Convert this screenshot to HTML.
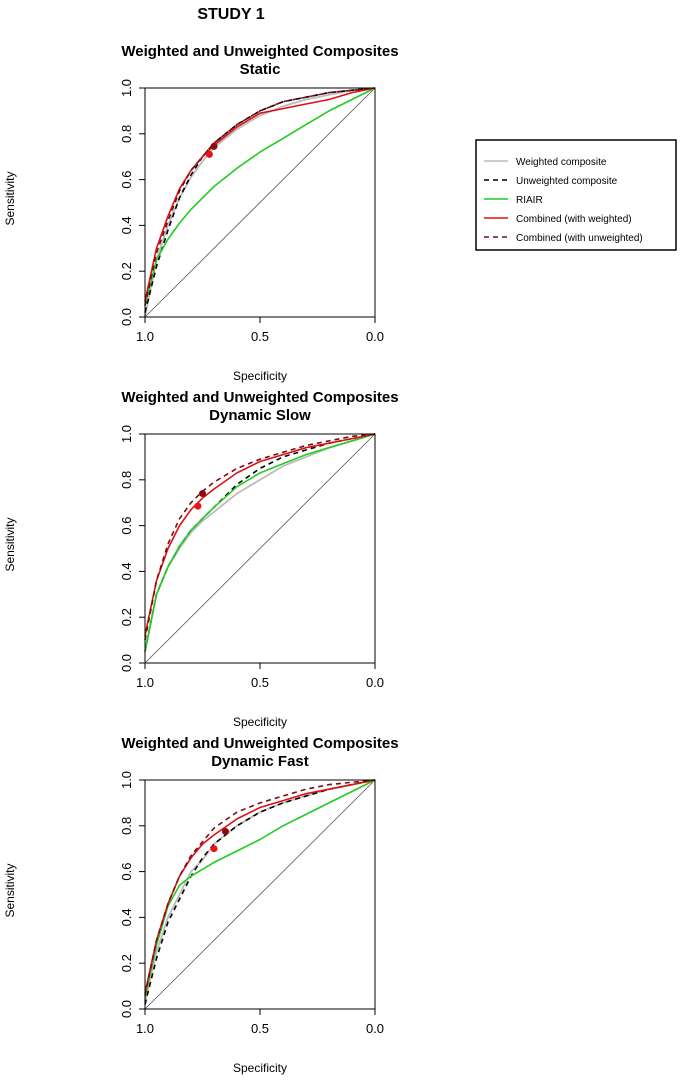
<!DOCTYPE html>
<html><head><meta charset="utf-8"><style>
body{margin:0;background:#fff;}
svg text{font-family:"Liberation Sans",Arial,sans-serif;fill:#000;}
</style></head><body>
<svg id="chart" width="685" height="1085" viewBox="0 0 685 1085" xmlns="http://www.w3.org/2000/svg">
<text x="231" y="19" font-size="16" font-weight="bold" text-anchor="middle">STUDY 1</text>
<g id="panels"></g>
<g>
<rect x="476" y="140" width="200" height="110" fill="#fff" stroke="#000" stroke-width="1.5"/>
<line x1="484" y1="161" x2="508" y2="161" stroke="#bbb" stroke-width="1.5"/>
<text x="516" y="165" font-size="10" fill="#333">Weighted composite</text>
<line x1="484" y1="180" x2="508" y2="180" stroke="#000" stroke-width="1.5" stroke-dasharray="5,4"/>
<text x="516" y="184" font-size="10">Unweighted composite</text>
<line x1="484" y1="199" x2="508" y2="199" stroke="#22cc22" stroke-width="1.5"/>
<text x="516" y="203" font-size="10">RIAIR</text>
<line x1="484" y1="218" x2="508" y2="218" stroke="#dd1111" stroke-width="1.5"/>
<text x="516" y="222" font-size="10">Combined (with weighted)</text>
<line x1="484" y1="237" x2="508" y2="237" stroke="#7a0a14" stroke-width="1.5" stroke-dasharray="5,4"/>
<text x="516" y="241" font-size="10">Combined (with unweighted)</text>
</g>
</svg>
<script>
const specificity=[1,0.95,0.9,0.85,0.8,0.75,0.7,0.6,0.5,0.4,0.3,0.2,0.1,0];
const panelTitles=["Static","Dynamic Slow","Dynamic Fast"];
const tickLabels=["0.0","0.2","0.4","0.6","0.8","1.0"];
const xTickLabels=["1.0","0.5","0.0"];
const staticWeighted=[0,0.25,0.4,0.52,0.61,0.68,0.74,0.82,0.88,0.92,0.95,0.97,0.99,1];
const staticUnweighted=[0.02,0.22,0.38,0.52,0.62,0.7,0.76,0.84,0.9,0.94,0.96,0.98,0.99,1];
const staticRiair=[0.05,0.25,0.34,0.41,0.47,0.52,0.57,0.65,0.72,0.78,0.84,0.9,0.95,1];
const staticCombW=[0.07,0.3,0.44,0.56,0.64,0.7,0.75,0.83,0.89,0.91,0.93,0.95,0.98,1];
const staticCombU=[0.05,0.28,0.42,0.55,0.64,0.7,0.76,0.84,0.9,0.94,0.96,0.98,0.99,1];
const slowWeighted=[0.05,0.3,0.42,0.5,0.57,0.62,0.66,0.74,0.8,0.86,0.9,0.94,0.97,1];
const slowUnweighted=[0.05,0.3,0.42,0.51,0.58,0.63,0.68,0.78,0.85,0.9,0.93,0.96,0.98,1];
const slowRiair=[0.05,0.3,0.42,0.51,0.58,0.63,0.68,0.77,0.83,0.87,0.91,0.94,0.97,1];
const slowCombW=[0.12,0.36,0.5,0.6,0.67,0.72,0.76,0.83,0.88,0.91,0.94,0.96,0.98,1];
const slowCombU=[0.1,0.36,0.52,0.63,0.7,0.75,0.79,0.85,0.89,0.92,0.95,0.97,0.99,1];
const fastWeighted=[0.03,0.25,0.4,0.5,0.6,0.65,0.72,0.8,0.86,0.9,0.93,0.96,0.98,1];
const fastUnweighted=[0.02,0.22,0.38,0.48,0.58,0.66,0.72,0.8,0.86,0.9,0.93,0.96,0.98,1];
const fastRiair=[0.05,0.28,0.45,0.54,0.58,0.61,0.64,0.69,0.74,0.8,0.85,0.9,0.95,1];
const fastCombW=[0.07,0.3,0.46,0.58,0.66,0.72,0.76,0.83,0.88,0.91,0.94,0.96,0.98,1];
const fastCombU=[0.06,0.3,0.46,0.58,0.67,0.73,0.79,0.86,0.9,0.93,0.96,0.98,0.99,1];
const staticPoints=[[0.72,0.71],[0.70,0.745]];
const slowPoints=[[0.77,0.685],[0.75,0.74]];
const fastPoints=[[0.70,0.70],[0.65,0.775]];

const panelSeries=[
 [staticWeighted,staticUnweighted,staticRiair,staticCombW,staticCombU],
 [slowWeighted,slowUnweighted,slowRiair,slowCombW,slowCombU],
 [fastWeighted,fastUnweighted,fastRiair,fastCombW,fastCombU]];
const panelPoints=[staticPoints,slowPoints,fastPoints];
const seriesNames=["weighted-composite","unweighted-composite","riair","combined-weighted","combined-unweighted"];
const seriesStyle=[["#bbb",""],["#000","5,4"],["#22cc22",""],["#dd1111",""],["#7a0a14","5,4"]];
const NS="http://www.w3.org/2000/svg";
const root=document.getElementById('panels');
function mk(tag,attrs,parent,text){const e=document.createElementNS(NS,tag);for(const k in attrs)e.setAttribute(k,attrs[k]);if(text!==undefined)e.textContent=text;parent.appendChild(e);return e;}
const L=145,W=230,H=229;
panelTitles.forEach((t,p)=>{
 const T=88+p*346;
 const xs=s=>L+(1-s)*W, ys=v=>T+H-v*H;
 const g=mk('g',{},root);
 
 
 const t1=mk('text',{x:260,y:T-32,'font-size':15,'font-weight':'bold','text-anchor':'middle'},g,'Weighted and Unweighted Composites');
 
 
 const t2=mk('text',{x:260,y:T-14,'font-size':15,'font-weight':'bold','text-anchor':'middle'},g,t);
 
 
 mk('line',{x1:xs(1),y1:ys(0),x2:xs(0),y2:ys(1),stroke:'#555','stroke-width':0.8},g);
 seriesNames.forEach((n,i)=>{
  const d=panelSeries[p][i].map((v,j)=>(j?'L':'M')+xs(specificity[j]).toFixed(1)+','+ys(v).toFixed(1)).join('');
  const a={d:d,fill:'none',stroke:seriesStyle[i][0],'stroke-width':i==0?1.8:1.6,'stroke-linejoin':'round'};
  if(seriesStyle[i][1])a['stroke-dasharray']=seriesStyle[i][1];
  const path=mk('path',a,g);
  
  
 });
 panelPoints[p].forEach((pt,i)=>{
  const c=mk('circle',{cx:xs(pt[0]),cy:ys(pt[1]),r:3.5,fill:i?'#8a0a10':'#ee1111'},g);
  
  
 });
 mk('rect',{x:L,y:T,width:W,height:H,fill:'none',stroke:'#000','stroke-width':1},g);
 tickLabels.forEach((lb,i)=>{
  const y=ys(i/5);
  mk('line',{x1:L-6,y1:y,x2:L,y2:y,stroke:'#000'},g);
  const tx=mk('text',{x:0,y:0,'font-size':13,'text-anchor':'middle',fill:'#333',transform:`translate(${L-14},${y}) rotate(-90)`},g,lb);
  
  
 });
 xTickLabels.forEach((lb,i)=>{
  const x=xs(1-i*0.5);
  mk('line',{x1:x,y1:T+H,x2:x,y2:T+H+6,stroke:'#000'},g);
  const tx=mk('text',{x:x,y:T+H+24,'font-size':13,'text-anchor':'middle',fill:'#333'},g,lb);
  
  
 });
 const xl=mk('text',{x:260,y:T+H+63,'font-size':12,'text-anchor':'middle',fill:'#333'},g,'Specificity');
 
 
 const yl=mk('text',{x:0,y:0,'font-size':12,'text-anchor':'middle',fill:'#333',transform:`translate(14,${T+H/2-4}) rotate(-90)`},g,'Sensitivity');
 
 
});
</script>
</body></html>
